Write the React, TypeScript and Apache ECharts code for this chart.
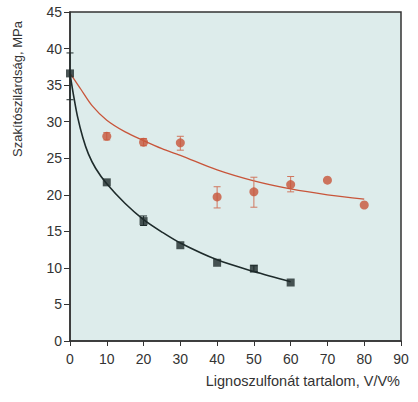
import React, { useEffect, useRef } from "react";
import * as echarts from "echarts";

const xTicks = [0, 10, 20, 30, 40, 50, 60, 70, 80, 90];
const yTicks = [0, 5, 10, 15, 20, 25, 30, 35, 40, 45];

// measured points
const blackX = [0, 10, 20, 30, 40, 50, 60];
const blackY = [36.6, 21.7, 16.4, 13.1, 10.7, 9.9, 8.0];
const blackErrX = [0, 20, 50];
const blackErrLow = [33.0, 15.8, 9.5];
const blackErrHigh = [39.4, 17.1, 10.3];

const orangeX = [10, 20, 30, 40, 50, 60, 70, 80];
const orangeY = [28.0, 27.2, 27.1, 19.7, 20.4, 21.4, 22.0, 18.6];
const orangeErrX = [10, 20, 30, 40, 50, 60];
const orangeErrLow = [27.5, 26.7, 26.1, 18.2, 18.3, 20.4];
const orangeErrHigh = [28.5, 27.7, 28.0, 21.1, 22.4, 22.5];

// fitted curves
const blackCurveX = [0, 0.5, 1, 2, 3.5, 5, 7, 10, 15, 20, 25, 30, 40, 50, 60];
const blackCurveY = [36.6, 35.0, 33.5, 30.8, 27.8, 25.6, 23.6, 21.5, 18.8, 16.6, 14.9, 13.4, 11.1, 9.5, 8.1];
const orangeCurveX = [0, 1, 3, 6, 10, 15, 20, 25, 30, 40, 50, 60, 70, 80];
const orangeCurveY = [36.6, 35.9, 34.4, 32.2, 30.2, 28.6, 27.4, 26.3, 25.4, 23.4, 21.9, 20.8, 20.0, 19.4];

const BLACK = "#1e2b2b";
const ORANGE = "#c8553a";
const AXIS = "#333333";
const FONT = "Liberation Sans, Arial, sans-serif";

const zip = (xs: number[], ys: number[]) => xs.map((x, i) => [x, ys[i]]);

function errorSeries(xs: number[], lo: number[], hi: number[], color: string) {
  return {
    type: "custom",
    data: xs.map((x, i) => [x, lo[i], hi[i]]),
    z: 3,
    renderItem: (params: any, api: any) => {
      const x = api.value(0);
      const p1 = api.coord([x, api.value(1)]);
      const p2 = api.coord([x, api.value(2)]);
      const w = 3.5;
      const style = { stroke: color, lineWidth: 1 };
      return {
        type: "group",
        children: [
          { type: "line", shape: { x1: p1[0], y1: p1[1], x2: p2[0], y2: p2[1] }, style },
          { type: "line", shape: { x1: p1[0] - w, y1: p1[1], x2: p1[0] + w, y2: p1[1] }, style },
          { type: "line", shape: { x1: p2[0] - w, y1: p2[1], x2: p2[0] + w, y2: p2[1] }, style },
        ],
      };
    },
  };
}

export default function App() {
  const ref = useRef<HTMLDivElement>(null);
  useEffect(() => {
    if (!ref.current) return;
    const chart = echarts.init(ref.current, undefined, { renderer: "svg" });
    chart.setOption({
      animation: false,
      textStyle: { fontFamily: FONT },
      grid: {
        left: 70,
        top: 12,
        right: 17,
        bottom: 61,
        show: true,
        backgroundColor: "#ddeceb",
        borderColor: AXIS,
        borderWidth: 1.5,
      },
      xAxis: {
        type: "value",
        min: 0,
        max: 90,
        interval: 10,
        axisLine: { show: true, lineStyle: { color: AXIS, width: 1.5 } },
        axisTick: { show: true, length: 5, lineStyle: { color: AXIS } },
        axisLabel: {
          color: "#333",
          fontSize: 14,
          margin: 11,
          fontFamily: FONT,
          formatter: (v: number) => (xTicks.includes(v) ? String(v) : ""),
        },
        splitLine: { show: false },
      },
      yAxis: {
        type: "value",
        min: 0,
        max: 45,
        interval: 5,
        axisLine: { show: true, lineStyle: { color: AXIS, width: 1.5 } },
        axisTick: { show: true, length: 6, lineStyle: { color: AXIS } },
        axisLabel: {
          color: "#333",
          fontSize: 14,
          margin: 8,
          fontFamily: FONT,
          showMaxLabel: true,
          formatter: (v: number) => (yTicks.includes(v) ? String(v) : ""),
        },
        splitLine: { show: false },
      },
      graphic: [
        {
          type: "text",
          x: 17.5,
          y: 89,
          rotation: Math.PI / 2,
          style: {
            text: "Szakítószilárdság, MPa",
            fill: "#333",
            font: `13px ${FONT}`,
            align: "center",
            verticalAlign: "middle",
          },
        },
        {
          type: "text",
          x: 400,
          y: 381,
          style: {
            text: "Lignoszulfonát tartalom, V/V%",
            fill: "#333",
            font: `14.5px ${FONT}`,
            align: "right",
            verticalAlign: "middle",
          },
        },
      ],
      series: [
        {
          type: "line",
          data: zip(orangeCurveX, orangeCurveY),
          smooth: 0.3,
          showSymbol: false,
          lineStyle: { color: ORANGE, width: 1.3 },
          z: 2,
        },
        {
          type: "line",
          data: zip(blackCurveX, blackCurveY),
          smooth: 0.3,
          showSymbol: false,
          lineStyle: { color: BLACK, width: 1.6 },
          z: 2,
        },
        errorSeries(orangeErrX, orangeErrLow, orangeErrHigh, "#d0775f"),
        errorSeries(blackErrX, blackErrLow, blackErrHigh, BLACK),
        {
          type: "scatter",
          data: zip(orangeX, orangeY),
          symbol: "circle",
          symbolSize: 9,
          itemStyle: { color: ORANGE },
          z: 4,
        },
        {
          type: "scatter",
          data: zip(blackX, blackY),
          symbol: "rect",
          symbolSize: 8,
          itemStyle: { color: BLACK },
          z: 4,
        },
      ],
    });
    return () => chart.dispose();
  }, []);
  return (
    <div
      ref={ref}
      style={{ position: "absolute", left: 0, top: 0, width: 418, height: 402 }}
    />
  );
}
